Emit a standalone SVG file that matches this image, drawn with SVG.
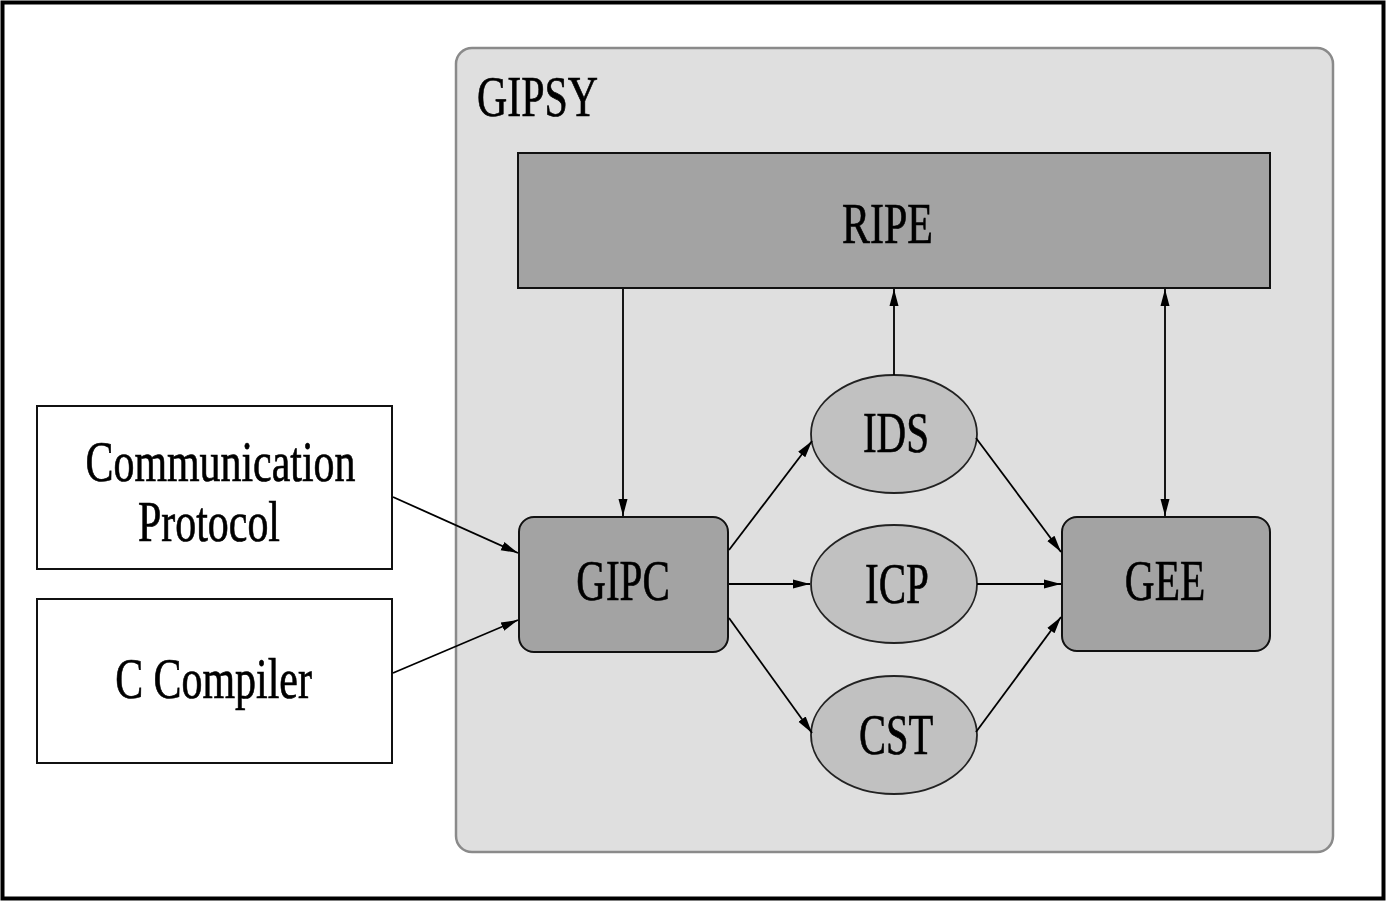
<svg xmlns="http://www.w3.org/2000/svg" width="1386" height="904" viewBox="0 0 1386 904">
<style>
.lbl{font-family:'Liberation Serif','Times New Roman',serif;font-size:57px;fill:#000;stroke:#000;stroke-width:0.7;text-anchor:middle;}
.box{fill:#a3a3a3;stroke:#111;stroke-width:2;}
.ell{fill:#c1c1c1;stroke:#222;stroke-width:1.8;}
.ext{fill:#fff;stroke:#111;stroke-width:2;}
.conn{stroke:#000;stroke-width:1.8;fill:none;}
</style>
<defs>
<marker id="ah" markerUnits="userSpaceOnUse" markerWidth="18" markerHeight="12" refX="17" refY="6" orient="auto-start-reverse" viewBox="0 0 18 12">
<path d="M0,1.5 L17,6 L0,10.5 Z" fill="#000"/>
</marker>
</defs>
<rect x="2.5" y="2.5" width="1381" height="896" fill="#fff" stroke="#000" stroke-width="4"/>
<g id="gipsy">
<rect x="456" y="48" width="877" height="804" rx="16" fill="#dfdfdf" stroke="#8a8a8a" stroke-width="2.5"/>
<text class="lbl" style="text-anchor:start" transform="translate(477,116) scale(0.735,1)">GIPSY</text>
</g>
<g id="ripe">
<rect class="box" x="518" y="153" width="752" height="135"/>
<text class="lbl" transform="translate(887.5,243) scale(0.735,1)">RIPE</text>
</g>
<g id="comm">
<rect class="ext" x="37" y="406" width="355" height="163"/>
<text class="lbl" transform="translate(220.5,481) scale(0.735,1)">Communication</text>
<text class="lbl" transform="translate(209,541) scale(0.735,1)">Protocol</text>
</g>
<g id="ccomp">
<rect class="ext" x="37" y="599" width="355" height="164"/>
<text class="lbl" transform="translate(213.5,698) scale(0.735,1)">C Compiler</text>
</g>
<g id="gipc">
<rect class="box" x="519" y="517" width="209" height="135" rx="15"/>
<text class="lbl" transform="translate(623,600) scale(0.72,1)">GIPC</text>
</g>
<g id="gee">
<rect class="box" x="1062" y="517" width="208" height="134" rx="15"/>
<text class="lbl" transform="translate(1165,600) scale(0.725,1)">GEE</text>
</g>
<g id="ids">
<ellipse class="ell" cx="894" cy="434" rx="83" ry="59"/>
<text class="lbl" transform="translate(896,452) scale(0.72,1)">IDS</text>
</g>
<g id="icp">
<ellipse class="ell" cx="894" cy="584" rx="83" ry="59"/>
<text class="lbl" transform="translate(897,603) scale(0.72,1)">ICP</text>
</g>
<g id="cst">
<ellipse class="ell" cx="894" cy="735" rx="83" ry="59"/>
<text class="lbl" transform="translate(896,754) scale(0.71,1)">CST</text>
</g>
<g id="connectors">
<line class="conn" x1="623" y1="289" x2="623" y2="516" marker-end="url(#ah)"/>
<line class="conn" x1="894" y1="375" x2="894" y2="289" marker-end="url(#ah)"/>
<line class="conn" x1="1165" y1="289" x2="1165" y2="516" marker-start="url(#ah)" marker-end="url(#ah)"/>
<line class="conn" x1="393" y1="497" x2="518" y2="553" marker-end="url(#ah)"/>
<line class="conn" x1="393" y1="673" x2="518" y2="620" marker-end="url(#ah)"/>
<line class="conn" x1="729" y1="550" x2="812" y2="441" marker-end="url(#ah)"/>
<line class="conn" x1="729" y1="584" x2="810" y2="584" marker-end="url(#ah)"/>
<line class="conn" x1="729" y1="618" x2="812" y2="733" marker-end="url(#ah)"/>
<line class="conn" x1="976" y1="438" x2="1061" y2="552" marker-end="url(#ah)"/>
<line class="conn" x1="977" y1="584" x2="1061" y2="584" marker-end="url(#ah)"/>
<line class="conn" x1="976" y1="732" x2="1061" y2="617" marker-end="url(#ah)"/>
</g>
</svg>
